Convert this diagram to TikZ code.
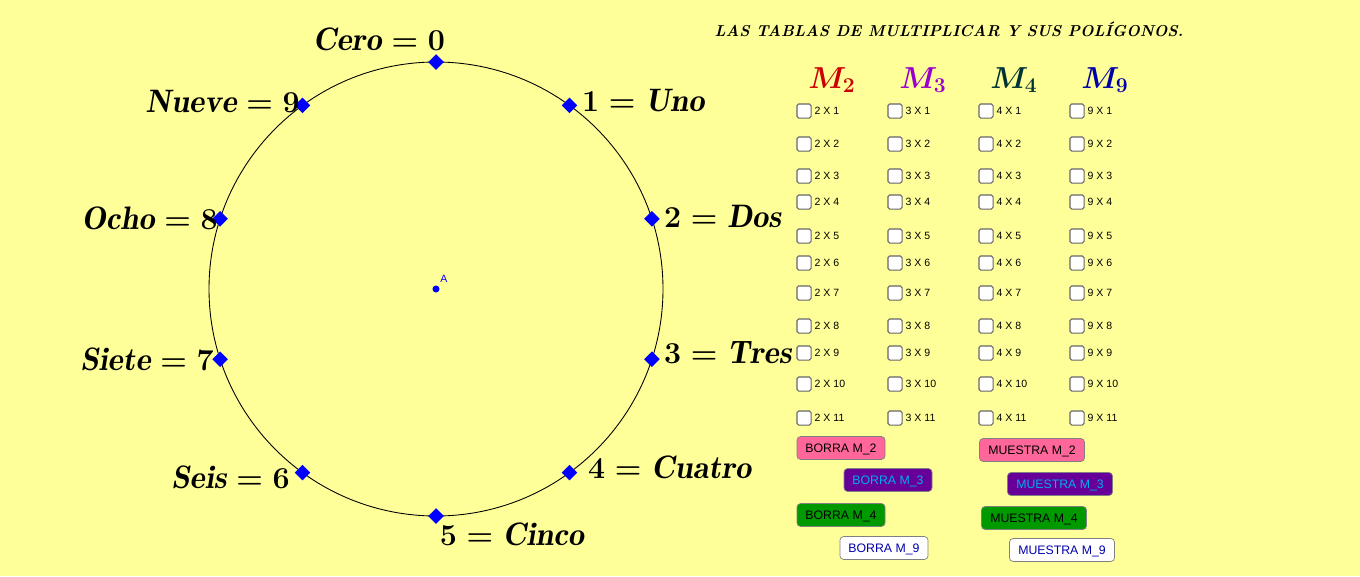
\documentclass[tikz,border=0pt]{standalone}
\usepackage{fontspec}
\usepackage{amsmath}
\newfontfamily\btnfont{Liberation Sans}
\usetikzlibrary{shapes.geometric, positioning, calc}
\definecolor{bgyellow}{RGB}{255,255,153}
\definecolor{mtwo}{RGB}{204,0,0}
\definecolor{mthree}{RGB}{153,0,204}
\definecolor{mfour}{RGB}{0,51,51}
\definecolor{mnine}{RGB}{0,0,170}
\definecolor{pinkbtn}{RGB}{255,102,153}
\definecolor{purplebtn}{RGB}{102,0,153}
\definecolor{greenbtn}{RGB}{0,153,0}
\tikzset{
  vertex/.style={diamond, fill=blue, inner sep=0pt, minimum size=9pt},
  numlabel/.style={font=\fontsize{18.5}{22}\selectfont\boldmath},
  chk/.style={draw=gray!80!black, fill=white, rounded corners=1pt, minimum size=8pt, inner sep=0pt, line width=0.6pt},
  chktext/.style={font=\btnfont\fontsize{6}{7}\selectfont, right, inner sep=1pt},
  btn/.style={draw=gray, rounded corners=2pt, minimum height=13pt, text height=5pt, text depth=0pt, font=\btnfont\fontsize{7}{8}\selectfont, inner sep=2pt}
}
\begin{document}
\begin{tikzpicture}[x=0.02cm, y=-0.02cm]
        \fill[bgyellow] (0,0) rectangle (1360,576);
        \useasboundingbox (0,0) rectangle (1360,576);

        \draw[black, line width=0.5pt] (436,289) circle (227);
        \node[circle, fill=blue, inner sep=0pt, minimum size=4pt] (a) at (436,289) {};
        \node[blue, font=\btnfont\fontsize{6}{7}\selectfont, inner sep=1pt] (alab) at (444,279) {A};

        % vertices on the circle
        \foreach \k in {0,...,9}
          \node[vertex] (p\k) at ({436+227*cos(90-36*\k)}, {289-227*sin(90-36*\k)}) {};

        % checkboxes
        \foreach \m/\cx in {2/804, 3/895, 4/986, 9/1077}
          \foreach \n/\ry in {1/111, 2/144, 3/176, 4/202, 5/236, 6/263, 7/293, 8/326, 9/353, 10/384, 11/418} {
            \node[chk] (c\m-\n) at (\cx,\ry) {};
            \node[chktext] (t\m-\n) at ($(c\m-\n.east)+(1,0)$) {\m\ X \n};
          }

        \node[numlabel, anchor=south] (l0) at (379,57) {$\mathit{Cero}=0$};
        \node[numlabel, anchor=west] (l1) at (576,101) {$1=\mathit{Uno}$};
        \node[numlabel, anchor=west] (l2) at (658,216) {$2=\mathit{Dos}$};
        \node[numlabel, anchor=west] (l3) at (658,353) {$3=\mathit{Tres}$};
        \node[numlabel, anchor=west] (l4) at (582,467) {$4=\mathit{Cuatro}$};
        \node[numlabel, anchor=north] (l5) at (512,517) {$5=\mathit{Cinco}$};
        \node[numlabel, anchor=east] (l6) at (296,477) {$\mathit{Seis}=6$};
        \node[numlabel, anchor=east] (l7) at (220,359) {$\mathit{Siete}=7$};
        \node[numlabel, anchor=east] (l8) at (224,218) {$\mathit{Ocho}=8$};
        \node[numlabel, anchor=east] (l9) at (306,101) {$\mathit{Nueve}=9$};

        % title and headers
        \node[font=\fontsize{9}{11}\selectfont\bfseries\itshape] (title) at (949,29) {LAS TABLAS DE MULTIPLICAR Y SUS POLÍGONOS.};
        \node[mtwo, numlabel] (h2) at (832,80) {$M_2$};
        \node[mthree, numlabel] (h3) at (923,80) {$M_3$};
        \node[mfour, numlabel] (h4) at (1014,80) {$M_4$};
        \node[mnine, numlabel] (h9) at (1105,80) {$M_9$};

        % buttons
        \node[btn, fill=pinkbtn, minimum width=88*0.02cm] (b2) at (841,448) {BORRA M\_2};
        \node[btn, fill=purplebtn, text=cyan, minimum width=88*0.02cm] (b3) at (888,480) {BORRA M\_3};
        \node[btn, fill=greenbtn, minimum width=88*0.02cm] (b4) at (841,515) {BORRA M\_4};
        \node[btn, fill=white, text=mnine, minimum width=88*0.02cm] (b9) at (884,548) {BORRA M\_9};
        \node[btn, fill=pinkbtn, minimum width=105*0.02cm] (s2) at (1032,450) {MUESTRA M\_2};
        \node[btn, fill=purplebtn, text=cyan, minimum width=105*0.02cm] (s3) at (1060,484) {MUESTRA M\_3};
        \node[btn, fill=greenbtn, minimum width=105*0.02cm] (s4) at (1034,518) {MUESTRA M\_4};
        \node[btn, fill=white, text=mnine, minimum width=105*0.02cm] (s9) at (1062,550) {MUESTRA M\_9};
\end{tikzpicture}
\end{document}
